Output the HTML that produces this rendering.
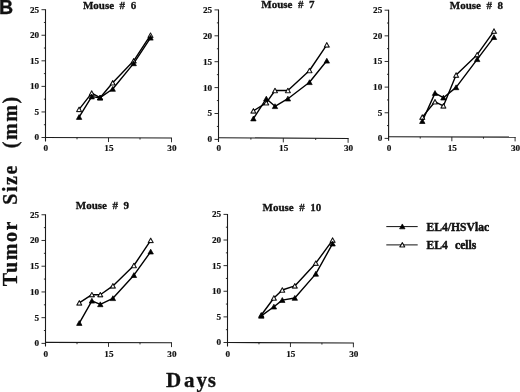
<!DOCTYPE html>
<html><head><meta charset="utf-8"><title>Figure B</title>
<style>
html,body{margin:0;padding:0;background:#fff;}
svg{display:block}
text{font-family:"Liberation Serif", serif;fill:#111;stroke:#111;stroke-width:0.3px;stroke-linejoin:round}
.tk{font-size:9.2px;font-weight:bold;stroke-width:0.18px}
.ti{font-size:11px;font-weight:bold;word-spacing:2.8px}
.lg{font-size:11.6px;font-weight:bold;word-spacing:0.7px;stroke-width:0.45px}
.ax{font-size:21px;font-weight:bold;letter-spacing:1px}
.yl{font-size:20px;letter-spacing:1.6px;word-spacing:1.2px}
.B{font-family:"Liberation Sans",sans-serif;font-size:19.6px;font-weight:bold}
</style></head><body>
<svg width="520" height="392" viewBox="0 0 520 392">
<rect width="520" height="392" fill="#fff"/>
<g><path d="M45.50,9.30 V141.50" fill="none" stroke="#1a1a1a" stroke-width="1.1"/>
<path d="M45.00,137.50 L172.00,138.00" fill="none" stroke="#1a1a1a" stroke-width="1.1"/>
<path d="M41.50,137.50 H45.50 M43.90,124.72 H45.50 M41.50,111.94 H45.50 M43.90,99.16 H45.50 M41.50,86.38 H45.50 M43.90,73.60 H45.50 M41.50,60.82 H45.50 M43.90,48.04 H45.50 M41.50,35.26 H45.50 M43.90,22.48 H45.50 M41.50,9.70 H45.50 M108.50,137.75 V142.05 M171.50,138.00 V142.30 M77.00,137.62 V139.32 M140.00,137.88 V139.57" fill="none" stroke="#1a1a1a" stroke-width="0.9"/>
<text x="39.20" y="140.40" text-anchor="end" class="tk">0</text>
<text x="39.20" y="114.84" text-anchor="end" class="tk">5</text>
<text x="39.20" y="89.28" text-anchor="end" class="tk">10</text>
<text x="39.20" y="63.72" text-anchor="end" class="tk">15</text>
<text x="39.20" y="38.16" text-anchor="end" class="tk">20</text>
<text x="39.20" y="12.60" text-anchor="end" class="tk">25</text>
<text x="45.90" y="151.20" text-anchor="middle" class="tk">0</text>
<text x="108.90" y="151.20" text-anchor="middle" class="tk">15</text>
<text x="171.90" y="151.20" text-anchor="middle" class="tk">30</text>
<text x="82.9" y="8.75" class="ti" xml:space="preserve">Mouse # 6</text>
<polyline points="79.10,109.40 91.70,93.10 100.10,97.70 112.70,82.80 133.70,60.80 150.50,35.20" fill="none" stroke="#000" stroke-width="1.4" stroke-linejoin="round"/>
<polyline points="79.10,117.10 91.70,96.60 100.10,97.70 112.70,89.00 133.70,63.40 150.50,37.80" fill="none" stroke="#000" stroke-width="1.4" stroke-linejoin="round"/>
<polygon points="79.10,106.85 76.40,111.70 81.80,111.70" fill="#000" stroke="#000" stroke-width="0.70" stroke-linejoin="round"/><polygon points="79.10,108.26 77.53,111.07 80.67,111.07" fill="#fff"/>
<polygon points="91.70,90.55 89.00,95.40 94.40,95.40" fill="#000" stroke="#000" stroke-width="0.70" stroke-linejoin="round"/><polygon points="91.70,91.96 90.13,94.77 93.27,94.77" fill="#fff"/>
<polygon points="100.10,95.15 97.40,100.00 102.80,100.00" fill="#000" stroke="#000" stroke-width="0.70" stroke-linejoin="round"/><polygon points="100.10,96.56 98.53,99.37 101.67,99.37" fill="#fff"/>
<polygon points="112.70,80.25 110.00,85.10 115.40,85.10" fill="#000" stroke="#000" stroke-width="0.70" stroke-linejoin="round"/><polygon points="112.70,81.66 111.13,84.47 114.27,84.47" fill="#fff"/>
<polygon points="133.70,58.25 131.00,63.10 136.40,63.10" fill="#000" stroke="#000" stroke-width="0.70" stroke-linejoin="round"/><polygon points="133.70,59.66 132.13,62.47 135.27,62.47" fill="#fff"/>
<polygon points="150.50,32.65 147.80,37.50 153.20,37.50" fill="#000" stroke="#000" stroke-width="0.70" stroke-linejoin="round"/><polygon points="150.50,34.06 148.93,36.87 152.07,36.87" fill="#fff"/>
<polygon points="79.10,114.55 76.40,119.40 81.80,119.40" fill="#000" stroke="#000" stroke-width="0.70" stroke-linejoin="round"/>
<polygon points="91.70,94.05 89.00,98.90 94.40,98.90" fill="#000" stroke="#000" stroke-width="0.70" stroke-linejoin="round"/>
<polygon points="100.10,95.15 97.40,100.00 102.80,100.00" fill="#000" stroke="#000" stroke-width="0.70" stroke-linejoin="round"/>
<polygon points="112.70,86.45 110.00,91.30 115.40,91.30" fill="#000" stroke="#000" stroke-width="0.70" stroke-linejoin="round"/>
<polygon points="133.70,60.85 131.00,65.70 136.40,65.70" fill="#000" stroke="#000" stroke-width="0.70" stroke-linejoin="round"/>
<polygon points="150.50,35.25 147.80,40.10 153.20,40.10" fill="#000" stroke="#000" stroke-width="0.70" stroke-linejoin="round"/></g>
<g><path d="M218.50,9.50 V142.00" fill="none" stroke="#1a1a1a" stroke-width="1.1"/>
<path d="M218.00,137.70 L348.60,138.50" fill="none" stroke="#1a1a1a" stroke-width="1.1"/>
<path d="M214.50,139.40 H218.50 M216.90,126.45 H218.50 M214.50,113.50 H218.50 M216.90,100.55 H218.50 M214.50,87.60 H218.50 M216.90,74.65 H218.50 M214.50,61.70 H218.50 M216.90,48.75 H218.50 M214.50,35.80 H218.50 M216.90,22.85 H218.50 M214.50,9.90 H218.50 M283.30,138.10 V142.40 M348.10,138.50 V142.80 M250.90,137.90 V139.60 M315.70,138.30 V140.00" fill="none" stroke="#1a1a1a" stroke-width="0.9"/>
<text x="212.20" y="142.30" text-anchor="end" class="tk">0</text>
<text x="212.20" y="116.40" text-anchor="end" class="tk">5</text>
<text x="212.20" y="90.50" text-anchor="end" class="tk">10</text>
<text x="212.20" y="64.60" text-anchor="end" class="tk">15</text>
<text x="212.20" y="38.70" text-anchor="end" class="tk">20</text>
<text x="212.20" y="12.80" text-anchor="end" class="tk">25</text>
<text x="218.90" y="151.20" text-anchor="middle" class="tk">0</text>
<text x="283.70" y="151.20" text-anchor="middle" class="tk">15</text>
<text x="348.50" y="151.20" text-anchor="middle" class="tk">30</text>
<text x="261.3" y="8.3" class="ti" xml:space="preserve">Mouse # 7</text>
<polyline points="253.40,110.90 266.30,102.80 275.00,90.50 287.90,90.50 309.50,70.50 326.80,44.90" fill="none" stroke="#000" stroke-width="1.4" stroke-linejoin="round"/>
<polyline points="253.40,118.60 266.30,98.70 275.00,106.30 287.90,98.70 309.50,82.30 326.80,60.80" fill="none" stroke="#000" stroke-width="1.4" stroke-linejoin="round"/>
<polygon points="253.40,108.35 250.70,113.20 256.10,113.20" fill="#000" stroke="#000" stroke-width="0.70" stroke-linejoin="round"/><polygon points="253.40,109.76 251.83,112.57 254.97,112.57" fill="#fff"/>
<polygon points="266.30,100.25 263.60,105.10 269.00,105.10" fill="#000" stroke="#000" stroke-width="0.70" stroke-linejoin="round"/><polygon points="266.30,101.66 264.73,104.47 267.87,104.47" fill="#fff"/>
<polygon points="275.00,87.95 272.30,92.80 277.70,92.80" fill="#000" stroke="#000" stroke-width="0.70" stroke-linejoin="round"/><polygon points="275.00,89.36 273.43,92.17 276.57,92.17" fill="#fff"/>
<polygon points="287.90,87.95 285.20,92.80 290.60,92.80" fill="#000" stroke="#000" stroke-width="0.70" stroke-linejoin="round"/><polygon points="287.90,89.36 286.33,92.17 289.47,92.17" fill="#fff"/>
<polygon points="309.50,67.95 306.80,72.80 312.20,72.80" fill="#000" stroke="#000" stroke-width="0.70" stroke-linejoin="round"/><polygon points="309.50,69.36 307.93,72.17 311.07,72.17" fill="#fff"/>
<polygon points="326.80,42.35 324.10,47.20 329.50,47.20" fill="#000" stroke="#000" stroke-width="0.70" stroke-linejoin="round"/><polygon points="326.80,43.76 325.23,46.57 328.37,46.57" fill="#fff"/>
<polygon points="253.40,116.05 250.70,120.90 256.10,120.90" fill="#000" stroke="#000" stroke-width="0.70" stroke-linejoin="round"/>
<polygon points="266.30,96.15 263.60,101.00 269.00,101.00" fill="#000" stroke="#000" stroke-width="0.70" stroke-linejoin="round"/>
<polygon points="275.00,103.75 272.30,108.60 277.70,108.60" fill="#000" stroke="#000" stroke-width="0.70" stroke-linejoin="round"/>
<polygon points="287.90,96.15 285.20,101.00 290.60,101.00" fill="#000" stroke="#000" stroke-width="0.70" stroke-linejoin="round"/>
<polygon points="309.50,79.75 306.80,84.60 312.20,84.60" fill="#000" stroke="#000" stroke-width="0.70" stroke-linejoin="round"/>
<polygon points="326.80,58.25 324.10,63.10 329.50,63.10" fill="#000" stroke="#000" stroke-width="0.70" stroke-linejoin="round"/></g>
<g><path d="M388.60,9.80 V140.80" fill="none" stroke="#1a1a1a" stroke-width="1.1"/>
<path d="M388.10,136.80 L515.60,137.10" fill="none" stroke="#1a1a1a" stroke-width="1.1"/>
<path d="M384.60,138.40 H388.60 M387.00,125.58 H388.60 M384.60,112.76 H388.60 M387.00,99.94 H388.60 M384.60,87.12 H388.60 M387.00,74.30 H388.60 M384.60,61.48 H388.60 M387.00,48.66 H388.60 M384.60,35.84 H388.60 M387.00,23.02 H388.60 M384.60,10.20 H388.60 M451.85,136.95 V141.25 M515.10,137.10 V141.40 M420.23,136.88 V138.57 M483.48,137.03 V138.72" fill="none" stroke="#1a1a1a" stroke-width="0.9"/>
<text x="382.30" y="141.30" text-anchor="end" class="tk">0</text>
<text x="382.30" y="115.66" text-anchor="end" class="tk">5</text>
<text x="382.30" y="90.02" text-anchor="end" class="tk">10</text>
<text x="382.30" y="64.38" text-anchor="end" class="tk">15</text>
<text x="382.30" y="38.74" text-anchor="end" class="tk">20</text>
<text x="382.30" y="13.10" text-anchor="end" class="tk">25</text>
<text x="389.00" y="151.20" text-anchor="middle" class="tk">0</text>
<text x="452.25" y="151.20" text-anchor="middle" class="tk">15</text>
<text x="515.50" y="151.20" text-anchor="middle" class="tk">30</text>
<text x="449.8" y="8.75" class="ti" xml:space="preserve">Mouse # 8</text>
<polyline points="422.30,117.10 435.00,101.80 443.40,105.90 456.10,75.10 477.20,54.70 494.00,31.10" fill="none" stroke="#000" stroke-width="1.4" stroke-linejoin="round"/>
<polyline points="422.30,121.20 435.00,93.10 443.40,97.70 456.10,87.40 477.20,59.30 494.00,37.20" fill="none" stroke="#000" stroke-width="1.4" stroke-linejoin="round"/>
<polygon points="422.30,114.55 419.60,119.40 425.00,119.40" fill="#000" stroke="#000" stroke-width="0.70" stroke-linejoin="round"/><polygon points="422.30,115.96 420.73,118.77 423.87,118.77" fill="#fff"/>
<polygon points="435.00,99.25 432.30,104.10 437.70,104.10" fill="#000" stroke="#000" stroke-width="0.70" stroke-linejoin="round"/><polygon points="435.00,100.66 433.43,103.47 436.57,103.47" fill="#fff"/>
<polygon points="443.40,103.35 440.70,108.20 446.10,108.20" fill="#000" stroke="#000" stroke-width="0.70" stroke-linejoin="round"/><polygon points="443.40,104.76 441.83,107.57 444.97,107.57" fill="#fff"/>
<polygon points="456.10,72.55 453.40,77.40 458.80,77.40" fill="#000" stroke="#000" stroke-width="0.70" stroke-linejoin="round"/><polygon points="456.10,73.96 454.53,76.77 457.67,76.77" fill="#fff"/>
<polygon points="477.20,52.15 474.50,57.00 479.90,57.00" fill="#000" stroke="#000" stroke-width="0.70" stroke-linejoin="round"/><polygon points="477.20,53.56 475.63,56.37 478.77,56.37" fill="#fff"/>
<polygon points="494.00,28.55 491.30,33.40 496.70,33.40" fill="#000" stroke="#000" stroke-width="0.70" stroke-linejoin="round"/><polygon points="494.00,29.96 492.43,32.77 495.57,32.77" fill="#fff"/>
<polygon points="422.30,118.65 419.60,123.50 425.00,123.50" fill="#000" stroke="#000" stroke-width="0.70" stroke-linejoin="round"/>
<polygon points="435.00,90.55 432.30,95.40 437.70,95.40" fill="#000" stroke="#000" stroke-width="0.70" stroke-linejoin="round"/>
<polygon points="443.40,95.15 440.70,100.00 446.10,100.00" fill="#000" stroke="#000" stroke-width="0.70" stroke-linejoin="round"/>
<polygon points="456.10,84.85 453.40,89.70 458.80,89.70" fill="#000" stroke="#000" stroke-width="0.70" stroke-linejoin="round"/>
<polygon points="477.20,56.75 474.50,61.60 479.90,61.60" fill="#000" stroke="#000" stroke-width="0.70" stroke-linejoin="round"/>
<polygon points="494.00,34.65 491.30,39.50 496.70,39.50" fill="#000" stroke="#000" stroke-width="0.70" stroke-linejoin="round"/></g>
<g><path d="M45.50,214.35 V346.50" fill="none" stroke="#1a1a1a" stroke-width="1.1"/>
<path d="M45.00,342.40 L172.00,342.80" fill="none" stroke="#1a1a1a" stroke-width="1.1"/>
<path d="M41.50,343.40 H45.50 M43.90,330.53 H45.50 M41.50,317.67 H45.50 M43.90,304.81 H45.50 M41.50,291.94 H45.50 M43.90,279.07 H45.50 M41.50,266.21 H45.50 M43.90,253.34 H45.50 M41.50,240.48 H45.50 M43.90,227.62 H45.50 M41.50,214.75 H45.50 M108.50,342.60 V346.90 M171.50,342.80 V347.10 M77.00,342.50 V344.20 M140.00,342.70 V344.40" fill="none" stroke="#1a1a1a" stroke-width="0.9"/>
<text x="39.20" y="346.30" text-anchor="end" class="tk">0</text>
<text x="39.20" y="320.57" text-anchor="end" class="tk">5</text>
<text x="39.20" y="294.84" text-anchor="end" class="tk">10</text>
<text x="39.20" y="269.11" text-anchor="end" class="tk">15</text>
<text x="39.20" y="243.38" text-anchor="end" class="tk">20</text>
<text x="39.20" y="217.65" text-anchor="end" class="tk">25</text>
<text x="45.90" y="356.50" text-anchor="middle" class="tk">0</text>
<text x="108.90" y="356.50" text-anchor="middle" class="tk">15</text>
<text x="171.90" y="356.50" text-anchor="middle" class="tk">30</text>
<text x="75.8" y="209.4" class="ti" xml:space="preserve">Mouse # 9</text>
<polyline points="79.30,302.90 91.90,294.70 100.30,294.70 112.90,285.90 133.90,265.50 150.70,240.40" fill="none" stroke="#000" stroke-width="1.4" stroke-linejoin="round"/>
<polyline points="79.30,323.10 91.90,300.80 100.30,304.40 112.90,298.30 133.90,275.20 150.70,251.70" fill="none" stroke="#000" stroke-width="1.4" stroke-linejoin="round"/>
<polygon points="79.30,300.35 76.60,305.20 82.00,305.20" fill="#000" stroke="#000" stroke-width="0.70" stroke-linejoin="round"/><polygon points="79.30,301.76 77.73,304.57 80.87,304.57" fill="#fff"/>
<polygon points="91.90,292.15 89.20,297.00 94.60,297.00" fill="#000" stroke="#000" stroke-width="0.70" stroke-linejoin="round"/><polygon points="91.90,293.56 90.33,296.37 93.47,296.37" fill="#fff"/>
<polygon points="100.30,292.15 97.60,297.00 103.00,297.00" fill="#000" stroke="#000" stroke-width="0.70" stroke-linejoin="round"/><polygon points="100.30,293.56 98.73,296.37 101.87,296.37" fill="#fff"/>
<polygon points="112.90,283.35 110.20,288.20 115.60,288.20" fill="#000" stroke="#000" stroke-width="0.70" stroke-linejoin="round"/><polygon points="112.90,284.76 111.33,287.57 114.47,287.57" fill="#fff"/>
<polygon points="133.90,262.95 131.20,267.80 136.60,267.80" fill="#000" stroke="#000" stroke-width="0.70" stroke-linejoin="round"/><polygon points="133.90,264.36 132.33,267.17 135.47,267.17" fill="#fff"/>
<polygon points="150.70,237.85 148.00,242.70 153.40,242.70" fill="#000" stroke="#000" stroke-width="0.70" stroke-linejoin="round"/><polygon points="150.70,239.26 149.13,242.07 152.27,242.07" fill="#fff"/>
<polygon points="79.30,320.55 76.60,325.40 82.00,325.40" fill="#000" stroke="#000" stroke-width="0.70" stroke-linejoin="round"/>
<polygon points="91.90,298.25 89.20,303.10 94.60,303.10" fill="#000" stroke="#000" stroke-width="0.70" stroke-linejoin="round"/>
<polygon points="100.30,301.85 97.60,306.70 103.00,306.70" fill="#000" stroke="#000" stroke-width="0.70" stroke-linejoin="round"/>
<polygon points="112.90,295.75 110.20,300.60 115.60,300.60" fill="#000" stroke="#000" stroke-width="0.70" stroke-linejoin="round"/>
<polygon points="133.90,272.65 131.20,277.50 136.60,277.50" fill="#000" stroke="#000" stroke-width="0.70" stroke-linejoin="round"/>
<polygon points="150.70,249.15 148.00,254.00 153.40,254.00" fill="#000" stroke="#000" stroke-width="0.70" stroke-linejoin="round"/></g>
<g><path d="M227.50,214.00 V346.50" fill="none" stroke="#1a1a1a" stroke-width="1.1"/>
<path d="M227.00,342.50 L353.90,343.00" fill="none" stroke="#1a1a1a" stroke-width="1.1"/>
<path d="M223.50,342.50 H227.50 M225.90,329.69 H227.50 M223.50,316.88 H227.50 M225.90,304.07 H227.50 M223.50,291.26 H227.50 M225.90,278.45 H227.50 M223.50,265.64 H227.50 M225.90,252.83 H227.50 M223.50,240.02 H227.50 M225.90,227.21 H227.50 M223.50,214.40 H227.50 M290.45,342.75 V347.05 M353.40,343.00 V347.30 M258.98,342.62 V344.32 M321.93,342.88 V344.57" fill="none" stroke="#1a1a1a" stroke-width="0.9"/>
<text x="221.20" y="345.40" text-anchor="end" class="tk">0</text>
<text x="221.20" y="319.78" text-anchor="end" class="tk">5</text>
<text x="221.20" y="294.16" text-anchor="end" class="tk">10</text>
<text x="221.20" y="268.54" text-anchor="end" class="tk">15</text>
<text x="221.20" y="242.92" text-anchor="end" class="tk">20</text>
<text x="221.20" y="217.30" text-anchor="end" class="tk">25</text>
<text x="227.90" y="356.50" text-anchor="middle" class="tk">0</text>
<text x="290.85" y="356.50" text-anchor="middle" class="tk">15</text>
<text x="353.80" y="356.50" text-anchor="middle" class="tk">30</text>
<text x="262.55" y="211.25" class="ti" xml:space="preserve">Mouse # 10</text>
<polyline points="261.30,315.00 273.90,298.00 282.30,290.00 294.80,285.90 315.80,263.20 332.60,240.10" fill="none" stroke="#000" stroke-width="1.4" stroke-linejoin="round"/>
<polyline points="261.30,315.90 273.90,306.70 282.30,300.10 294.80,298.00 315.80,273.90 332.60,243.70" fill="none" stroke="#000" stroke-width="1.4" stroke-linejoin="round"/>
<polygon points="261.30,312.45 258.60,317.30 264.00,317.30" fill="#000" stroke="#000" stroke-width="0.70" stroke-linejoin="round"/><polygon points="261.30,313.86 259.73,316.67 262.87,316.67" fill="#fff"/>
<polygon points="273.90,295.45 271.20,300.30 276.60,300.30" fill="#000" stroke="#000" stroke-width="0.70" stroke-linejoin="round"/><polygon points="273.90,296.86 272.33,299.67 275.47,299.67" fill="#fff"/>
<polygon points="282.30,287.45 279.60,292.30 285.00,292.30" fill="#000" stroke="#000" stroke-width="0.70" stroke-linejoin="round"/><polygon points="282.30,288.86 280.73,291.67 283.87,291.67" fill="#fff"/>
<polygon points="294.80,283.35 292.10,288.20 297.50,288.20" fill="#000" stroke="#000" stroke-width="0.70" stroke-linejoin="round"/><polygon points="294.80,284.76 293.23,287.57 296.37,287.57" fill="#fff"/>
<polygon points="315.80,260.65 313.10,265.50 318.50,265.50" fill="#000" stroke="#000" stroke-width="0.70" stroke-linejoin="round"/><polygon points="315.80,262.06 314.23,264.87 317.37,264.87" fill="#fff"/>
<polygon points="332.60,237.55 329.90,242.40 335.30,242.40" fill="#000" stroke="#000" stroke-width="0.70" stroke-linejoin="round"/><polygon points="332.60,238.96 331.03,241.77 334.17,241.77" fill="#fff"/>
<polygon points="261.30,313.35 258.60,318.20 264.00,318.20" fill="#000" stroke="#000" stroke-width="0.70" stroke-linejoin="round"/>
<polygon points="273.90,304.15 271.20,309.00 276.60,309.00" fill="#000" stroke="#000" stroke-width="0.70" stroke-linejoin="round"/>
<polygon points="282.30,297.55 279.60,302.40 285.00,302.40" fill="#000" stroke="#000" stroke-width="0.70" stroke-linejoin="round"/>
<polygon points="294.80,295.45 292.10,300.30 297.50,300.30" fill="#000" stroke="#000" stroke-width="0.70" stroke-linejoin="round"/>
<polygon points="315.80,271.35 313.10,276.20 318.50,276.20" fill="#000" stroke="#000" stroke-width="0.70" stroke-linejoin="round"/>
<polygon points="332.60,241.15 329.90,246.00 335.30,246.00" fill="#000" stroke="#000" stroke-width="0.70" stroke-linejoin="round"/></g>
<g><path d="M386.3,226.6 H417.7 M386.3,244.9 H417.7" stroke="#111" stroke-width="1"/>
<polygon points="402.30,223.95 399.60,228.80 405.00,228.80" fill="#000" stroke="#000" stroke-width="0.70" stroke-linejoin="round"/>
<polygon points="402.30,242.25 399.60,247.10 405.00,247.10" fill="#000" stroke="#000" stroke-width="0.70" stroke-linejoin="round"/><polygon points="402.30,243.66 400.73,246.47 403.87,246.47" fill="#fff"/>
<text x="426.6" y="231.2" class="lg">EL4/HSVlac</text>
<text x="426.6" y="248.8" class="lg" xml:space="preserve">EL4  cells</text></g>
<text x="-0.9" y="13.5" class="B">B</text>
<text transform="translate(16.5,286.2) rotate(-90)" class="ax yl" xml:space="preserve">Tumor  Size  (mm)</text>
<text x="166" y="386.7" dx="0 1.9 1 -0.4" class="ax days">Days</text>
</svg>
</body></html>
